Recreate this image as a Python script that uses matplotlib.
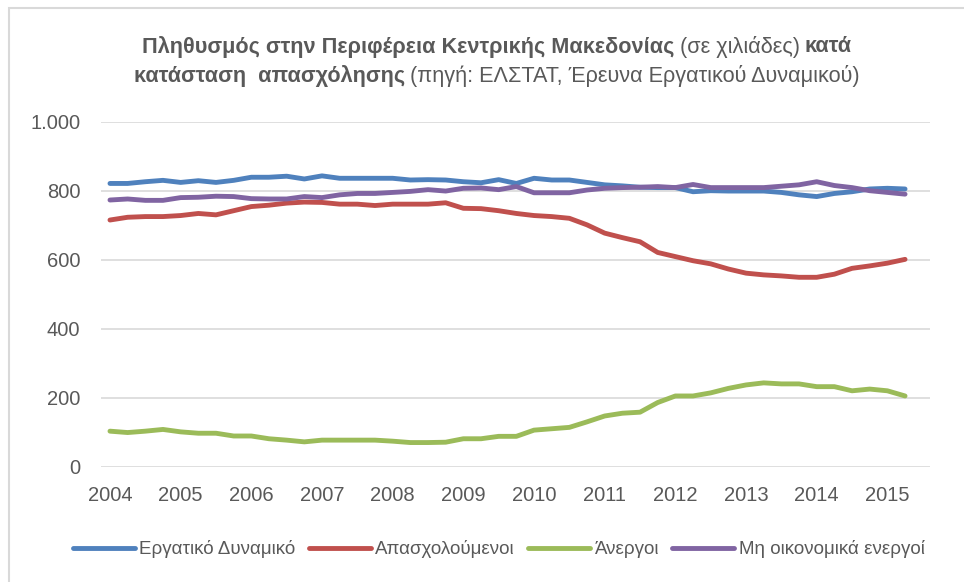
import numpy as np
import matplotlib
matplotlib.use("Agg")
import matplotlib.pyplot as plt
from matplotlib.patches import Rectangle
from matplotlib.ticker import FuncFormatter

plt.rcParams["font.family"] = ["Liberation Sans", "DejaVu Sans"]

# quarterly data, 2004 Q1 - 2015 Q2 (thousands)
quarters = 2004 + np.arange(46) * 0.25

series = {
    "Εργατικό Δυναμικό": [821, 821, 826, 830, 824, 829, 824, 830, 839, 839,
                          842, 834, 843, 836, 836, 836, 836, 831, 832, 831,
                          826, 823, 832, 821, 836, 831, 831, 824, 817, 814,
                          810, 809, 809, 797, 800, 799, 799, 799, 795, 788,
                          783, 792, 797, 805, 807, 805],
    "Απασχολούμενοι": [715, 723, 725, 725, 728, 734, 730, 742, 754, 758,
                       764, 767, 766, 761, 761, 757, 761, 761, 761, 765,
                       749, 748, 742, 734, 728, 725, 720, 701, 677, 664,
                       652, 621, 609, 597, 588, 573, 561, 556, 553, 549,
                       549, 558, 575, 582, 590, 601],
    "Άνεργοι": [103, 99, 103, 108, 101, 97, 97, 89, 89, 81,
                77, 72, 77, 77, 77, 77, 74, 70, 70, 71,
                81, 81, 88, 88, 106, 110, 114, 130, 147, 155,
                158, 186, 205, 205, 214, 227, 237, 243, 240, 240,
                232, 232, 220, 225, 220, 205],
    "Μη οικονομικά ενεργοί": [773, 776, 772, 772, 780, 781, 784, 783, 777, 776,
                              776, 783, 780, 788, 792, 792, 795, 798, 803, 799,
                              807, 808, 803, 812, 794, 794, 794, 802, 807, 809,
                              810, 812, 809, 818, 809, 809, 809, 809, 813, 817,
                              826, 815, 809, 800, 795, 790],
}
colors = ["#4F81BD", "#C0504D", "#9BBB59", "#8064A2"]
gray = "#595959"

fig = plt.figure(figsize=(9.64, 5.82), dpi=100)
fig.patches.append(Rectangle((9 / 964, -0.1), 1.2, 1 - 8 / 582 + 0.1,
                             transform=fig.transFigure, fill=False,
                             edgecolor="#D9D9D9", lw=1.5))

ax = fig.add_axes([101 / 964, 1 - 466.7 / 582, 829 / 964, 345 / 582])
for (name, vals), c in zip(series.items(), colors):
    ax.plot(quarters, vals, color=c, lw=3.5, label=name, solid_capstyle="round")

ax.set_xlim(2003.873, 2015.603)
ax.set_ylim(0, 1000)
ax.set_xticks(range(2004, 2016))
ax.set_yticks(range(0, 1001, 200))
ax.yaxis.set_major_formatter(FuncFormatter(lambda v, p: f"{int(v):,}".replace(",", ".")))
ax.grid(axis="y", color="#D9D9D9", lw=1.2)
ax.set_axisbelow(True)
for s in ax.spines.values():
    s.set_visible(False)
ax.tick_params(length=0, labelsize=14.5, labelcolor=gray)
ax.tick_params(axis="y", pad=15)
ax.tick_params(axis="x", pad=14)

ax.legend(loc="center", bbox_to_anchor=(0.48, -0.24), ncol=4, frameon=False,
          fontsize=13.5, labelcolor=gray, handlelength=3.3, handletextpad=0.25,
          columnspacing=0.7)


def rich_line(y, segs, size):
    r = fig.canvas.get_renderer()
    texts = [fig.text(0, y, s, fontweight=w, fontsize=size, color=gray, va="center")
             for s, w in segs]
    widths = [t.get_window_extent(r).width for t in texts]
    gap = 5
    total = sum(widths) + gap * (len(texts) - 1)
    x = 497 - total / 2
    for t, w in zip(texts, widths):
        t.set_x(x / 964)
        x += w + gap


rich_line(1 - 47 / 582, [("Πληθυσμός στην Περιφέρεια Κεντρικής Μακεδονίας", "bold"),
                         ("(σε χιλιάδες)", "normal"), ("κατά", "bold")], 15.6)
rich_line(1 - 76 / 582, [("κατάσταση  απασχόλησης", "bold"),
                         ("(πηγή: ΕΛΣΤΑΤ, Έρευνα Εργατικού Δυναμικού)", "normal")], 15.6)

fig.savefig("out.png", dpi=100)
